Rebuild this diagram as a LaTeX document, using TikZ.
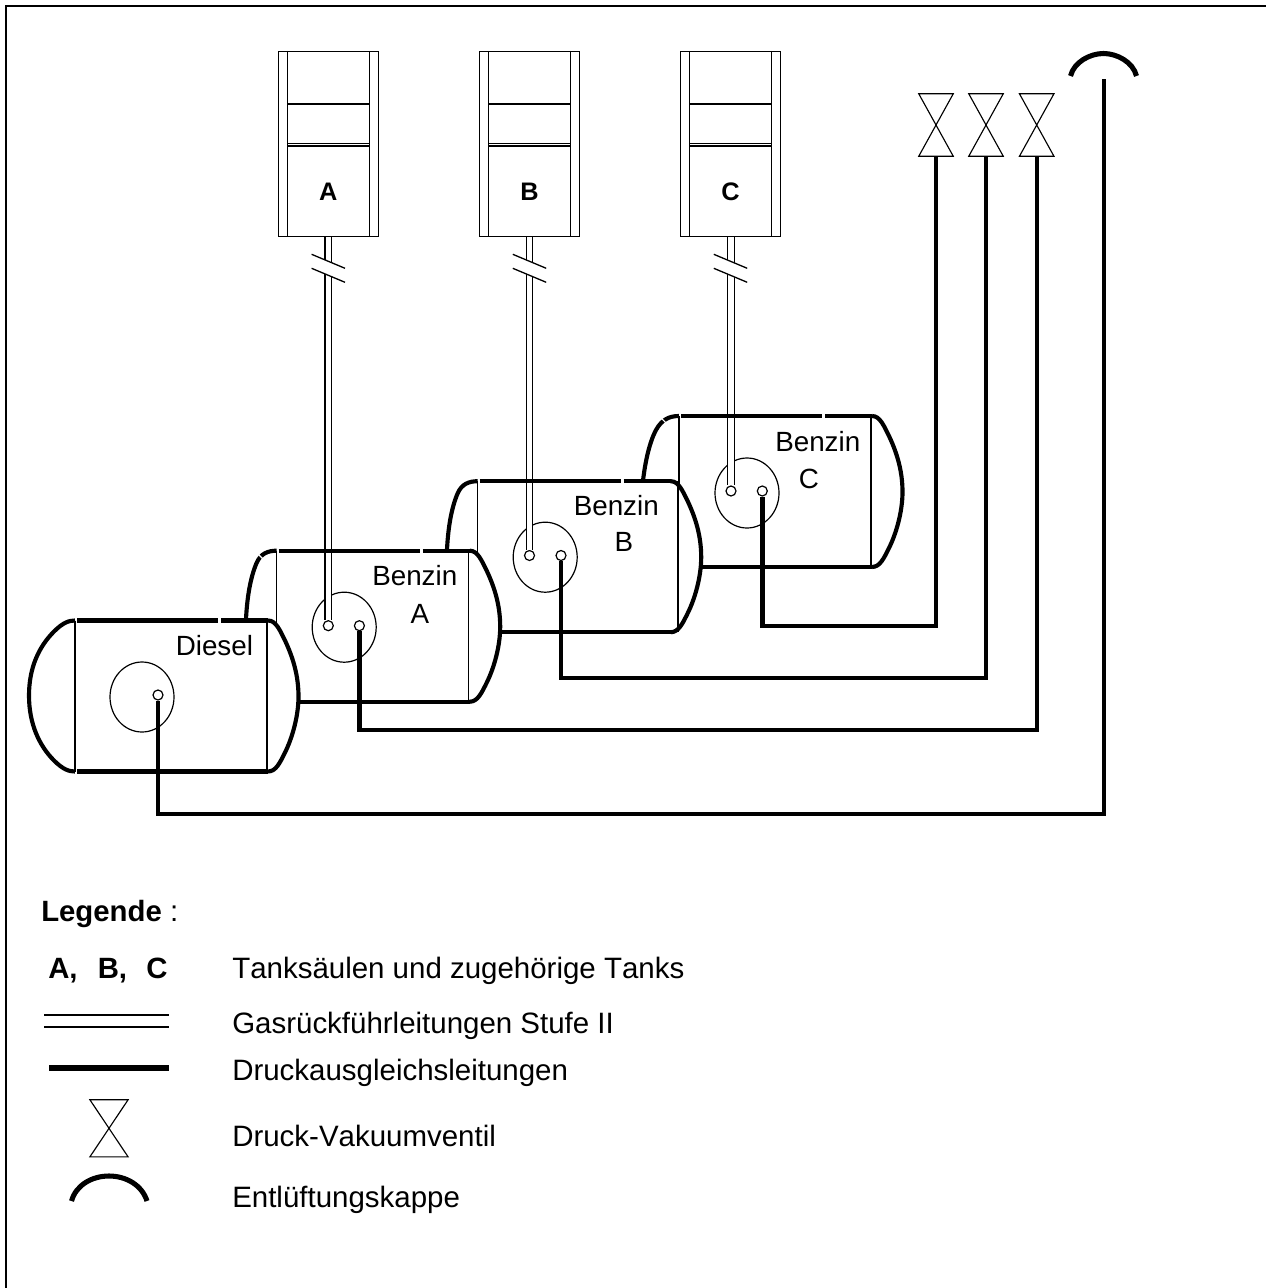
\documentclass[tikz,border=0pt]{standalone}
\usepackage{fontspec}
\setmainfont[Kerning=Off]{Liberation Sans}
\newcommand{\tanklab}{\fontsize{20.85}{25}\selectfont}
\newcommand{\legtxt}{\fontsize{22.1}{26}\selectfont}
\newcommand{\legbold}{\fontsize{22}{26}\selectfont\bfseries}
\newcommand{\pumplab}{\fontsize{19}{23}\selectfont\bfseries}
\usetikzlibrary{shapes.geometric}
\tikzset{
  x=0.75pt,y=-0.75pt,
  thin line/.style={line width=0.98pt,black},
  vert line/.style={line width=1.3pt,black},
  tank line/.style={line width=3.1pt,black},
  pipe/.style={line width=3.3pt,black,line join=miter},
  gas/.style={line width=1pt,black,double=white,double distance=3.9pt},
  port/.style={circle,draw=black,fill=white,line width=0.9pt,minimum size=7.5pt,inner sep=0pt},
  vessel/.style={ellipse,draw=black,line width=0.9pt,minimum width=48pt,minimum height=52.5pt},
  txt/.style={anchor=base west,inner sep=0pt,font=\legtxt},
  tanktxt/.style={anchor=base west,inner sep=0pt,font=\tanklab},
  tankmid/.style={anchor=base,inner sep=0pt,font=\tanklab},
  keytxt/.style={anchor=base west,inner sep=0pt,font=\legbold},
  pumpbox/.style={draw=black,line width=1.1pt,minimum width=75pt,minimum height=138.4pt,inner sep=0pt},
  valvebox/.style={minimum width=25.5pt,minimum height=46.5pt,inner sep=0pt},
  ventcap/.style={line width=3.8pt,black},
}
\newcommand{\captankA}{(0,0) .. controls (-9,0) and (-16,3) .. (-20,12) .. controls (-26,26) and (-30,46) .. (-31,75) .. controls (-30,105) and (-26,125) .. (-20,139) .. controls (-16,148) and (-9,151) .. (0,151)}
\newcommand{\captankC}{(0,0) .. controls (-9,0) and (-17,3) .. (-23,14) .. controls (-30,27) and (-35,50) .. (-37,75) .. controls (-35,100) and (-30,124) .. (-23,137) .. controls (-17,148) and (-9,151) .. (0,151)}
\newcommand{\captankD}{(0,0) .. controls (-6,0) and (-12,2) .. (-21,11) .. controls (-36,26) and (-46,47) .. (-46,75) .. controls (-46,103) and (-36,125) .. (-21,140) .. controls (-12,149) and (-6,151) .. (0,151)}
\newcommand{\capright}{(193,0) .. controls (201,0) and (205,10) .. (210,20) .. controls (218,37) and (223.5,55) .. (223.5,76) .. controls (223.5,96) and (217,118) .. (210,132) .. controls (205,142) and (201,151) .. (193,151)}
% tank: #1 left x, #2 top y, #3 right vertical rel x, #4 left cap curve, #5 content drawn between fill and outline
\newcommand{\tank}[5]{%
  \begin{scope}[shift={(#1,#2)}]
    \fill[white] #4 -- (193,151) .. controls (201,151) and (205,142) .. (210,132) .. controls (217,118) and (223.5,96) .. (223.5,76) .. controls (223.5,55) and (218,37) .. (210,20) .. controls (205,10) and (201,0) .. (193,0) -- cycle;
    #5
    \draw[thin line] (0,0) -- (0,151);
    \draw[vert line] (#3,0) -- (#3,151);
    \draw[tank line] #4;
    \draw[tank line] \capright;
    \draw[tank line] (2,0) -- (143,0) (146,0) -- (193,0);
    \draw[tank line] (2,151) -- (193,151);
  \end{scope}}
\newcommand{\pump}[2]{%
  \node[pumpbox] (s#1) at (#2,144) {};
  \draw[line width=1.1pt] ([xshift=7.3pt]s#1.north west) -- ([xshift=7.3pt]s#1.south west)
    ([xshift=-7.3pt]s#1.north east) -- ([xshift=-7.3pt]s#1.south east);
  \draw[line width=0.9pt] (#2-40.5,104) -- (#2+40.5,104) (#2-40.5,143.2) -- (#2+40.5,143.2) (#2-40.5,146) -- (#2+40.5,146);
  \node[inner sep=0pt,anchor=base,font=\pumplab] (l#1) at (#2,200.5) {#1};
}
\newcommand{\gasbreak}[1]{%
  \fill[white] (#1-6,258.8) -- (#1+6,263.8) -- (#1+6,277.8) -- (#1-6,272.8) -- cycle;
  \draw[thin line] (#1-16.7,254.3) -- (#1+16.7,268.3) (#1-16.7,268.3) -- (#1+16.7,282.3);
}
\newcommand{\valve}[1]{%
  \draw[line width=0.85pt,line join=miter] (#1.north west) -- (#1.north east) -- (#1.south west) -- (#1.south east) -- cycle;
}
\begin{document}
\begin{tikzpicture}
\useasboundingbox (0,0) rectangle (1266,1288);
\draw[line width=1.5pt] (1266,6) -- (6,6) -- (6,1288);

% columns
\pump{A}{328.3}
\pump{B}{529.5}
\pump{C}{730.5}

% tanks, back to front
\tank{679}{416}{191.7}{\captankC}{
  \node[vessel] (cC) at (68,77) {};
  \node[port] (gC) at (52,75) {};
  \node[port] (pC) at (83.3,75) {};
  \draw[gas] (gC.north |- sC.south) -- (gC.north);
}
\tank{477.7}{481.2}{200}{\captankA}{
  \node[vessel] (cB) at (67.5,76) {};
  \node[port] (gB) at (51.8,74.3) {};
  \node[port] (pB) at (83.3,74.3) {};
  \draw[gas] (gB.north |- sB.south) -- (gB.north);
}
\tank{276.7}{550.7}{191.7}{\captankA}{
  \node[vessel] (cA) at (67.5,76.5) {};
  \node[port] (gA) at (51.6,75) {};
  \node[port] (pA) at (82.7,75) {};
  \draw[gas] (gA.north |- sA.south) -- (gA.north);
}
\tank{75}{620.5}{192}{\captankD}{
  \node[vessel] (cD) at (67,76.5) {};
  \node[port] (pD) at (83,74.5) {};
}
% hairline breaks in the rear caps
\draw[white,line width=0.8pt] (258.5,554.5) -- (263,559);
\draw[white,line width=0.8pt] (661.5,418.5) -- (666,423);

\gasbreak{328.3}
\gasbreak{529.5}
\gasbreak{730.5}

% valves and vent
\node[valvebox] (vC) at (936,125) {};
\node[valvebox] (vB) at (986,125) {};
\node[valvebox] (vA) at (1036.7,125) {};
\valve{vA}\valve{vB}\valve{vC}
\coordinate (ventend) at (1104,79);
\draw[ventcap] (1070.5,76) .. controls (1074,62) and (1090,53.5) .. (1103.5,53.5) .. controls (1117,53.5) and (1133,62) .. (1136.5,76);

% pressure pipes
\coordinate (jC) at (762.3,625.7);
\coordinate (jB) at (561,678);
\coordinate (jA) at (359.4,730);
\coordinate (jD) at (158,814);
\draw[pipe] (pC.south) -- (pC.south |- jC) -- (jC -| vC.south) -- (vC.south);
\draw[pipe] (pB.south) -- (pB.south |- jB) -- (jB -| vB.south) -- (vB.south);
\draw[pipe] (pA.south) -- (pA.south |- jA) -- (jA -| vA.south) -- (vA.south);
\draw[pipe] (pD.south) -- (pD.south |- jD) -- (jD -| ventend) -- (ventend);

% tank labels
\node[tanktxt] (tD) at (175.5,655.7) {Diesel};
\node[tanktxt] (tA) at (372,585.7) {Benzin};
\node[tankmid] (tAb) at (420,623) {A};
\node[tanktxt] (tB) at (573.5,515) {Benzin};
\node[tankmid] (tBb) at (624,551) {B};
\node[tanktxt] (tC) at (775,451) {Benzin};
\node[tankmid] (tCb) at (809,488) {C};

% legend
\node[anchor=base west,inner sep=0pt,font=\legtxt] (leg) at (41,921) {{\legbold Legende} :};
\node[keytxt] (kA) at (48,978.5) {A,};
\node[keytxt] (kB) at (97.5,978.5) {B,};
\node[keytxt] (kC) at (146,978.5) {C};
\node[txt] (t1) at (232,978.5) {Tanksäulen und zugehörige Tanks};
\node[txt] (t2) at (232,1033) {Gasrückführleitungen Stufe II};
\node[txt] (t3) at (232,1080) {Druckausgleichsleitungen};
\node[txt] (t4) at (232,1146) {Druck-Vakuumventil};
\node[txt] (t5) at (232,1207) {Entlüftungskappe};
\coordinate (d1) at (44,1015); \coordinate (d2) at (169,1015);
\coordinate (d3) at (44,1027); \coordinate (d4) at (169,1027);
\draw[line width=1.2pt] (d1) -- (d2);
\draw[line width=0.9pt] (d3) -- (d4);
\coordinate (e1) at (49,1067.7); \coordinate (e2) at (169,1067.7);
\draw[line width=4.2pt] (e1) -- (e2);
\node[minimum width=28.3pt,minimum height=42.5pt,inner sep=0pt] (lv) at (109,1128.3) {};
\valve{lv}
\draw[ventcap] (71.5,1201) .. controls (76,1185) and (92,1176) .. (109,1176) .. controls (126,1176) and (142,1185) .. (147,1201);
\end{tikzpicture}
\end{document}
